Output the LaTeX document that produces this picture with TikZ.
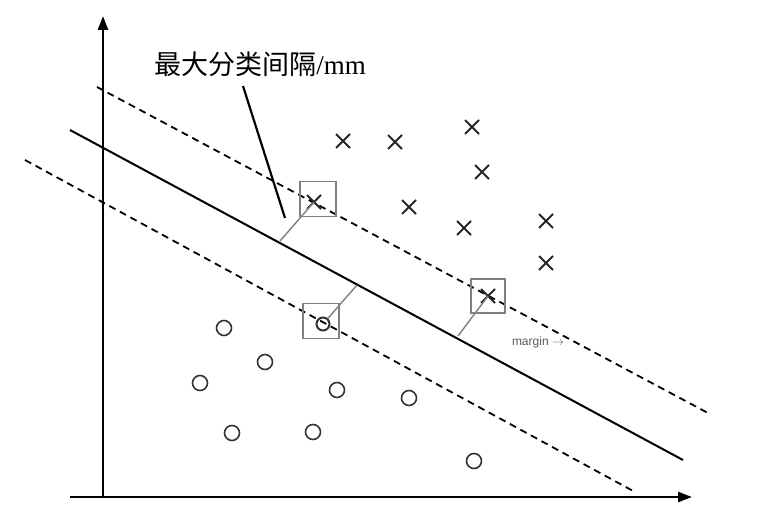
\documentclass[tikz,border=0pt]{standalone}
\usepackage{fontspec}
\setmainfont{Liberation Serif}
\newfontfamily\cjk{Noto Sans CJK SC}
\newfontfamily\sans{Liberation Sans}
\usetikzlibrary{arrows.meta}
\begin{document}
\begin{tikzpicture}[x=1pt,y=-1pt,
  cr/.style={line width=2pt,draw=black!85},
  ci/.style={circle,draw=black!80,line width=1.6pt,minimum size=15pt,inner sep=0pt},
  sv/.style={draw=black!50,line width=1.5pt,minimum width=36pt,minimum height=35pt,inner sep=0pt},
  gl/.style={draw=black!50,line width=1.4pt},
  dl/.style={line width=1.8pt,dash pattern=on 7pt off 5pt},
  ax/.style={line width=2.6pt,-{Triangle[length=14pt,width=10pt]}}]
\useasboundingbox (0,0) rectangle (775,524);
\coordinate (o1) at (103,497); \coordinate (o2) at (103,16);
\coordinate (h1) at (70,497); \coordinate (h2) at (692,497);
\draw[ax] (o1) -- (o2);
\draw[ax] (h1) -- (h2);
\coordinate (s1) at (70,130); \coordinate (s2) at (683,460);
\coordinate (u1) at (97,87); \coordinate (u2) at (708,413);
\coordinate (l1) at (25,160); \coordinate (l2) at (635,492);
\draw[line width=2pt] (s1) -- (s2);
\draw[dl] (u1) -- (u2);
\draw[dl] (l1) -- (l2);
\foreach \n/\x/\y in {a/343/141,b/395/142,c/472/127,d/482/172,e/314/202,f/409/207,g/464/228,h/546/221,i/546/263,j/488/296}{
  \coordinate (x\n) at (\x,\y);
  \draw[cr] (\x-7,\y-7) -- (\x+7,\y+7) (\x-7,\y+7) -- (\x+7,\y-7);
}
\foreach \n/\x/\y in {1/224/328,2/265/362,3/200/383,4/337/390,5/409/398,6/232/433,7/313/432,8/474/461}{
  \node[ci] (c\n) at (\x,\y) {};
}
\node[ci,minimum size=13pt,line width=2pt] (c9) at (323,324) {};
\node[sv] (b1) at (318,199) {};
\node[sv] (b2) at (321,321) {};
\node[sv,minimum width=34pt,minimum height=34pt] (b3) at (488,296) {};
\coordinate (m1) at (280,241); \coordinate (m2) at (357,285); \coordinate (m3) at (458,336);
\draw[gl] (xe) -- (m1);
\draw[gl] (c9) -- (m2);
\draw[gl] (xj) -- (m3);
\node[font=\cjk\fontsize{27}{27}\selectfont,inner sep=0pt] (t) at (260,64) {最大分类间隔\rmfamily/mm};
\coordinate (p) at (285,218);
\draw[line width=2.2pt] (243,86) -- (p);
\node[font=\sans\fontsize{12}{12}\selectfont,text=black!65,inner sep=0pt] (mg) at (538,342) {margin $\to$};
\end{tikzpicture}
\end{document}
